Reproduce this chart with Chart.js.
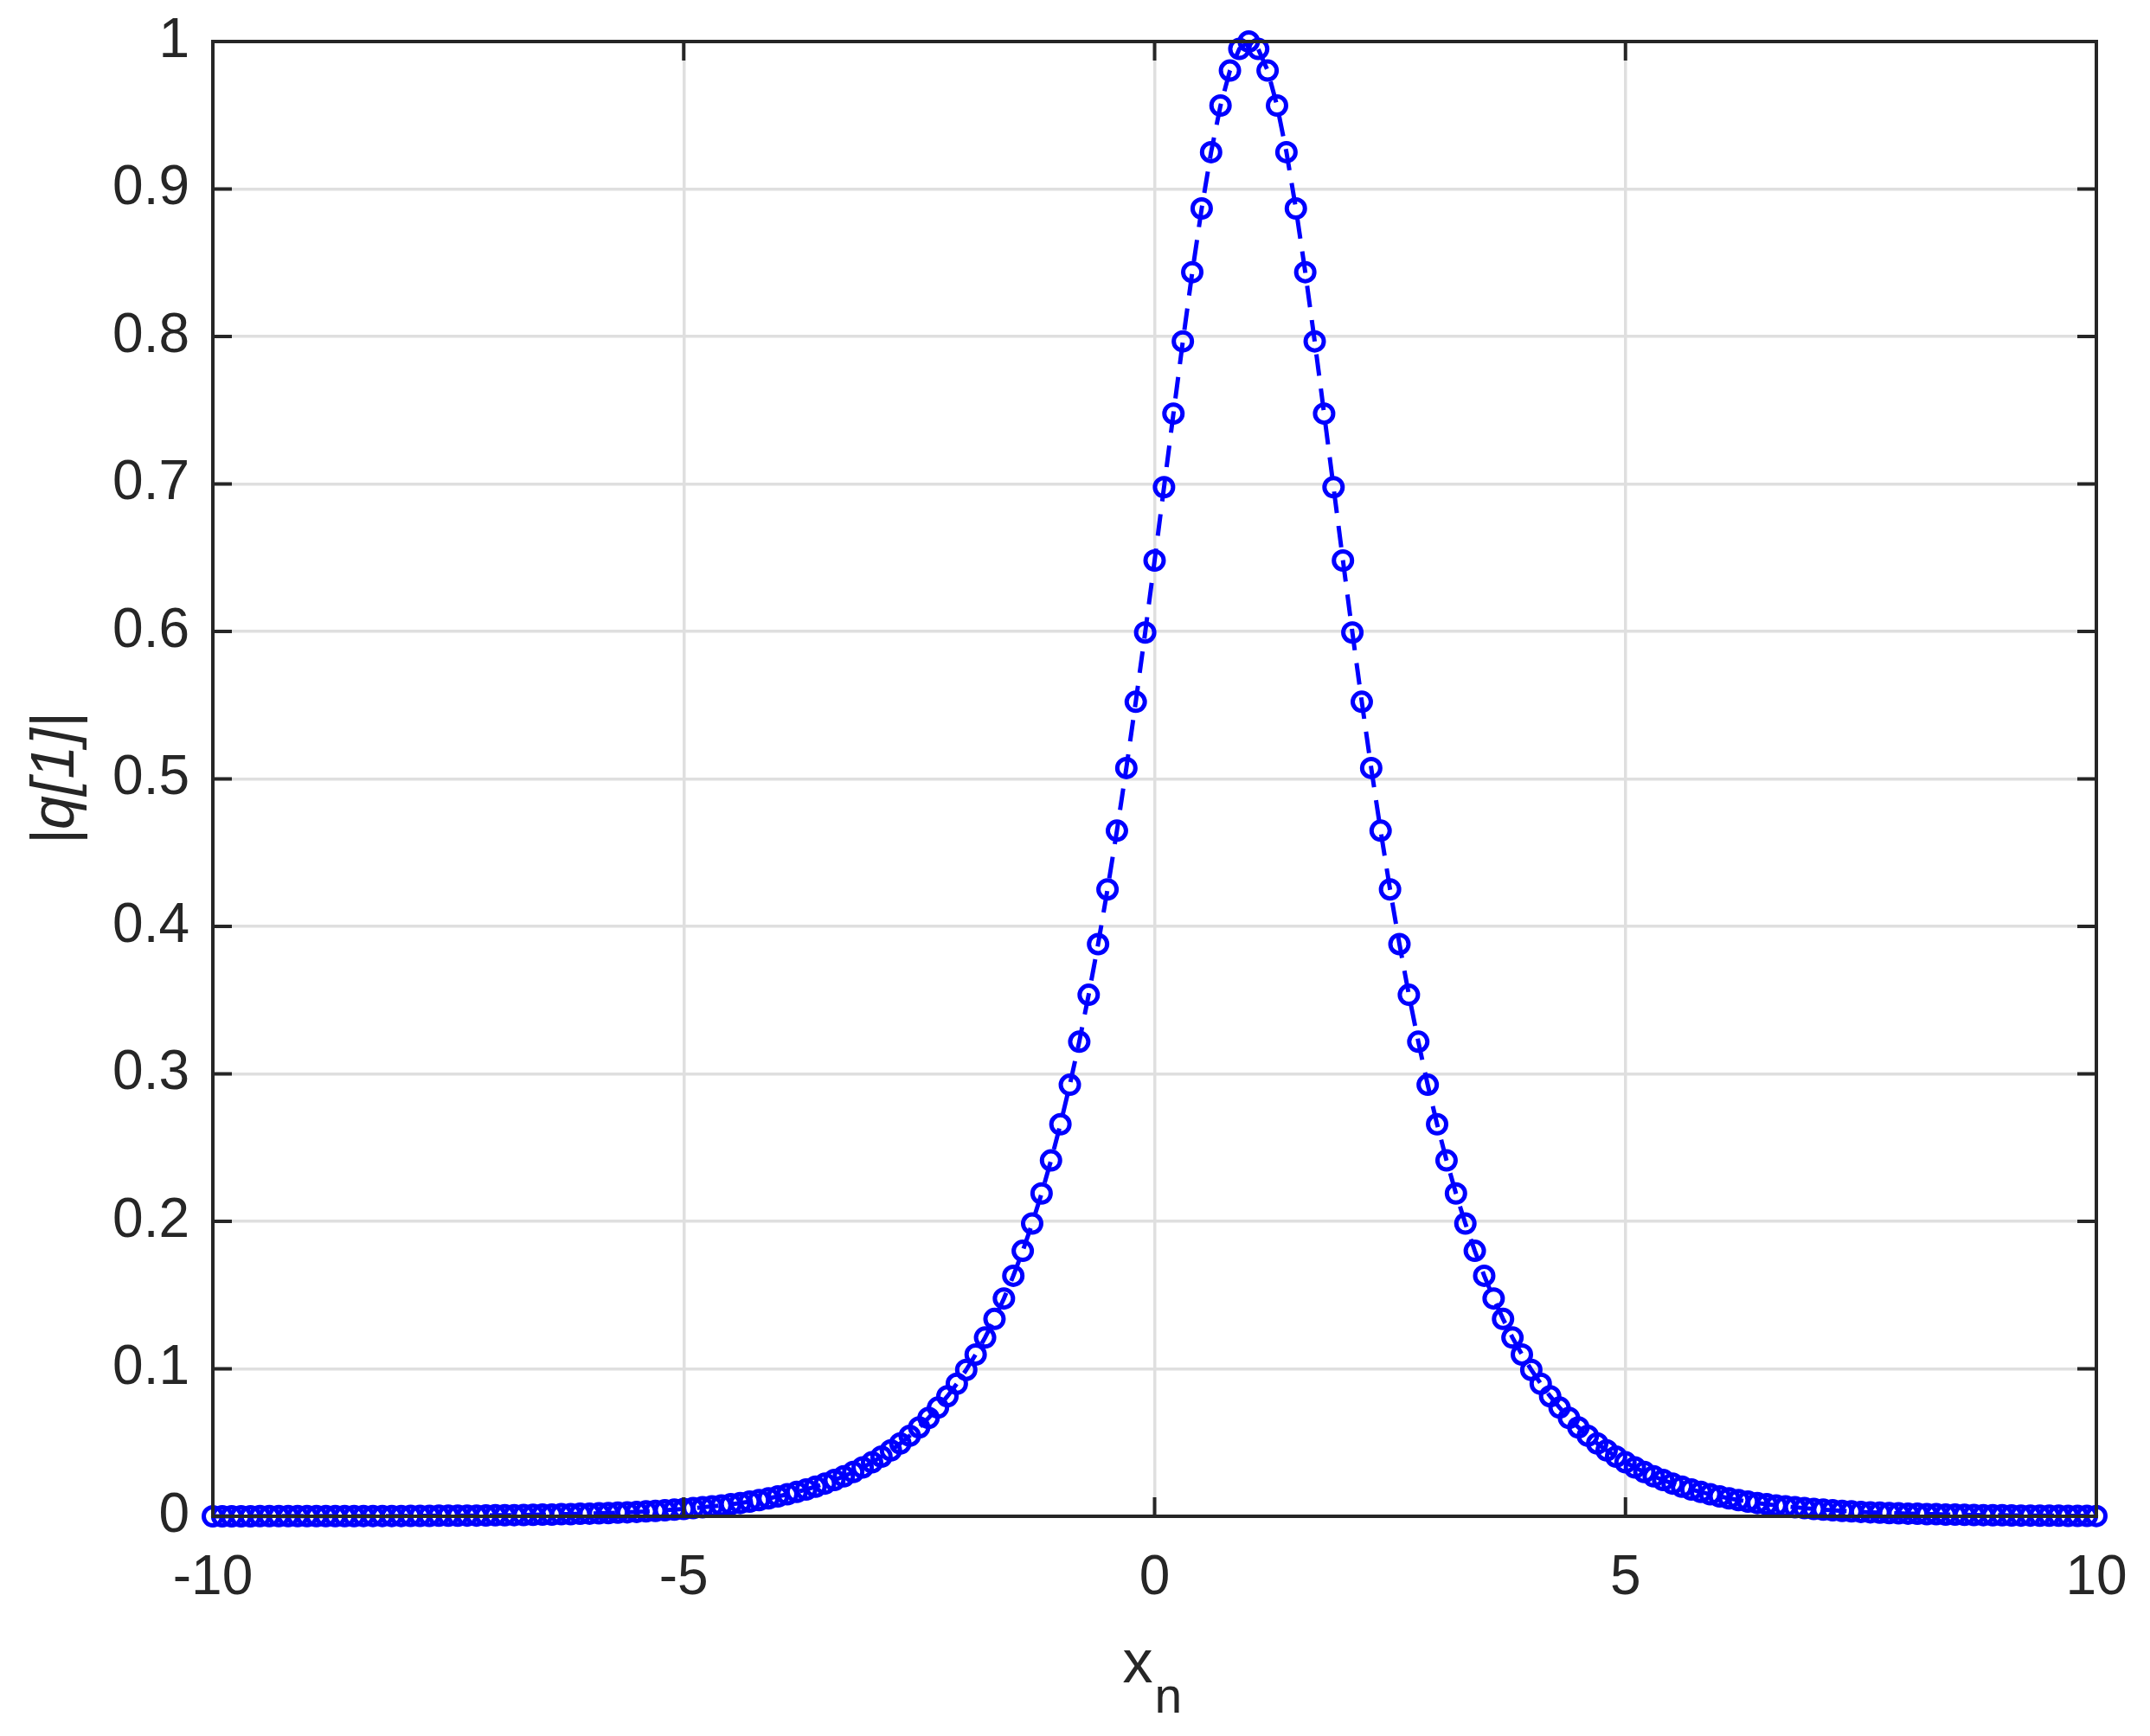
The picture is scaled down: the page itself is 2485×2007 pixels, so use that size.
<!DOCTYPE html>
<html>
<head>
<meta charset="utf-8">
<script src="https://cdn.jsdelivr.net/npm/chart.js@4.4.1/dist/chart.umd.min.js"></script>
<style>
  html, body { margin: 0; padding: 0; background: #fff; }
  canvas { display: block; }
</style>
</head>
<body>
<canvas id="plot" width="2485" height="2007"></canvas>
<script>
// x_n grid (201 samples)
const xn = [
  -10, -9.9, -9.8, -9.7, -9.6, -9.5, -9.4, -9.3, -9.2, -9.1,
  -9, -8.9, -8.8, -8.7, -8.6, -8.5, -8.4, -8.3, -8.2, -8.1,
  -8, -7.9, -7.8, -7.7, -7.6, -7.5, -7.4, -7.3, -7.2, -7.1,
  -7, -6.9, -6.8, -6.7, -6.6, -6.5, -6.4, -6.3, -6.2, -6.1,
  -6, -5.9, -5.8, -5.7, -5.6, -5.5, -5.4, -5.3, -5.2, -5.1,
  -5, -4.9, -4.8, -4.7, -4.6, -4.5, -4.4, -4.3, -4.2, -4.1,
  -4, -3.9, -3.8, -3.7, -3.6, -3.5, -3.4, -3.3, -3.2, -3.1,
  -3, -2.9, -2.8, -2.7, -2.6, -2.5, -2.4, -2.3, -2.2, -2.1,
  -2, -1.9, -1.8, -1.7, -1.6, -1.5, -1.4, -1.3, -1.2, -1.1,
  -1, -0.9, -0.8, -0.7, -0.6, -0.5, -0.4, -0.3, -0.2, -0.1,
  0, 0.1, 0.2, 0.3, 0.4, 0.5, 0.6, 0.7, 0.8, 0.9,
  1, 1.1, 1.2, 1.3, 1.4, 1.5, 1.6, 1.7, 1.8, 1.9,
  2, 2.1, 2.2, 2.3, 2.4, 2.5, 2.6, 2.7, 2.8, 2.9,
  3, 3.1, 3.2, 3.3, 3.4, 3.5, 3.6, 3.7, 3.8, 3.9,
  4, 4.1, 4.2, 4.3, 4.4, 4.5, 4.6, 4.7, 4.8, 4.9,
  5, 5.1, 5.2, 5.3, 5.4, 5.5, 5.6, 5.7, 5.8, 5.9,
  6, 6.1, 6.2, 6.3, 6.4, 6.5, 6.6, 6.7, 6.8, 6.9,
  7, 7.1, 7.2, 7.3, 7.4, 7.5, 7.6, 7.7, 7.8, 7.9,
  8, 8.1, 8.2, 8.3, 8.4, 8.5, 8.6, 8.7, 8.8, 8.9,
  9, 9.1, 9.2, 9.3, 9.4, 9.5, 9.6, 9.7, 9.8, 9.9,
  10
];

// |q[1]| at each x_n
const q1 = [
  0, 0, 0, 0, 0, 0.0001, 0.0001, 0.0001, 0.0001, 0.0001,
  0.0001, 0.0001, 0.0001, 0.0001, 0.0001, 0.0001, 0.0002, 0.0002, 0.0002, 0.0002,
  0.0002, 0.0003, 0.0003, 0.0003, 0.0004, 0.0004, 0.0004, 0.0005, 0.0005, 0.0006,
  0.0007, 0.0007, 0.0008, 0.0009, 0.0010, 0.0011, 0.0012, 0.0014, 0.0015, 0.0017,
  0.0018, 0.0020, 0.0022, 0.0025, 0.0027, 0.0030, 0.0033, 0.0037, 0.0041, 0.0045,
  0.0050, 0.0055, 0.0061, 0.0067, 0.0074, 0.0082, 0.0090, 0.0100, 0.0110, 0.0122,
  0.0135, 0.0149, 0.0165, 0.0182, 0.0201, 0.0222, 0.0246, 0.0271, 0.0300, 0.0331,
  0.0366, 0.0405, 0.0447, 0.0494, 0.0546, 0.0603, 0.0667, 0.0737, 0.0814, 0.0899,
  0.0993, 0.1097, 0.1212, 0.1338, 0.1477, 0.1631, 0.1800, 0.1985, 0.2189, 0.2413,
  0.2658, 0.2926, 0.3218, 0.3536, 0.3880, 0.4251, 0.4649, 0.5074, 0.5523, 0.5993,
  0.6481, 0.6978, 0.7477, 0.7967, 0.8436, 0.8868, 0.9250, 0.9566, 0.9803, 0.9950,
  1.0000, 0.9950, 0.9803, 0.9566, 0.9250, 0.8868, 0.8436, 0.7967, 0.7477, 0.6978,
  0.6481, 0.5993, 0.5523, 0.5074, 0.4649, 0.4251, 0.3880, 0.3536, 0.3218, 0.2926,
  0.2658, 0.2413, 0.2189, 0.1985, 0.1800, 0.1631, 0.1477, 0.1338, 0.1212, 0.1097,
  0.0993, 0.0899, 0.0814, 0.0737, 0.0667, 0.0603, 0.0546, 0.0494, 0.0447, 0.0405,
  0.0366, 0.0331, 0.0300, 0.0271, 0.0246, 0.0222, 0.0201, 0.0182, 0.0165, 0.0149,
  0.0135, 0.0122, 0.0110, 0.0100, 0.0090, 0.0082, 0.0074, 0.0067, 0.0061, 0.0055,
  0.0050, 0.0045, 0.0041, 0.0037, 0.0033, 0.0030, 0.0027, 0.0025, 0.0022, 0.0020,
  0.0018, 0.0017, 0.0015, 0.0014, 0.0012, 0.0011, 0.0010, 0.0009, 0.0008, 0.0007,
  0.0007, 0.0006, 0.0005, 0.0005, 0.0004, 0.0004, 0.0004, 0.0003, 0.0003, 0.0003,
  0.0002
];

const xTicks = [-10, -5, 0, 5, 10];
const yTicks = [0, 0.1, 0.2, 0.3, 0.4, 0.5, 0.6, 0.7, 0.8, 0.9, 1];

const axisColor = '#262626';
const fontFamily = '"Liberation Sans", Arial, Helvetica, sans-serif';

// MATLAB-style box with inward ticks on all four sides, plus the x_n label
const boxPlugin = {
  id: 'matlabBox',
  afterDatasetsDraw(chart) {
    const { ctx, chartArea: a, scales } = chart;
    const tl = 22;
    ctx.save();
    ctx.strokeStyle = axisColor;
    ctx.lineWidth = 4;
    ctx.beginPath();
    xTicks.forEach(v => {
      const px = scales.x.getPixelForValue(v);
      ctx.moveTo(px, a.bottom); ctx.lineTo(px, a.bottom - tl);
      ctx.moveTo(px, a.top); ctx.lineTo(px, a.top + tl);
    });
    yTicks.forEach(v => {
      const py = scales.y.getPixelForValue(v);
      ctx.moveTo(a.left, py); ctx.lineTo(a.left + tl, py);
      ctx.moveTo(a.right, py); ctx.lineTo(a.right - tl, py);
    });
    ctx.stroke();
    ctx.strokeRect(a.left, a.top, a.right - a.left, a.bottom - a.top);

    // x label with subscript
    const cx = (a.left + a.right) / 2;
    ctx.fillStyle = axisColor;
    ctx.textBaseline = 'alphabetic';
    ctx.textAlign = 'left';
    ctx.font = '70px ' + fontFamily;
    ctx.fillText('x', cx - 37, a.bottom + 192);
    ctx.font = '57px ' + fontFamily;
    ctx.fillText('n', cx, a.bottom + 227);
    ctx.restore();
  }
};

new Chart(document.getElementById('plot'), {
  type: 'line',
  data: {
    labels: xn,
    datasets: [{
      data: xn.map((x, i) => ({ x: x, y: q1[i] })),
      borderColor: '#0000ff',
      borderWidth: 5,
      borderDash: [25, 15],
      pointStyle: 'circle',
      pointRadius: 10.5,
      pointBorderWidth: 5,
      pointBorderColor: '#0000ff',
      pointBackgroundColor: 'rgba(0,0,0,0)',
      tension: 0,
      fill: false,
      clip: false
    }]
  },
  options: {
    responsive: false,
    devicePixelRatio: 1,
    animation: false,
    events: [],
    layout: { autoPadding: false, padding: { top: 48, right: 62, left: 0, bottom: 0 } },
    plugins: {
      legend: { display: false },
      tooltip: { enabled: false }
    },
    scales: {
      x: {
        type: 'linear',
        min: -10,
        max: 10,
        afterFit: s => { s.height = 254; s.paddingLeft = 0; s.paddingRight = 0; },
        afterBuildTicks: s => { s.ticks = xTicks.map(v => ({ value: v })); },
        border: { display: false },
        grid: { color: '#dfdfdf', lineWidth: 3.5, drawTicks: false },
        ticks: {
          color: axisColor,
          padding: 34,
          maxRotation: 0,
          autoSkip: false,
          font: { family: fontFamily, size: 64 },
          callback: v => String(v)
        }
      },
      y: {
        type: 'linear',
        min: 0,
        max: 1,
        afterFit: s => { s.width = 246; s.paddingTop = 0; s.paddingBottom = 0; },
        afterBuildTicks: s => { s.ticks = yTicks.map(v => ({ value: v })); },
        border: { display: false },
        grid: { color: '#dfdfdf', lineWidth: 3.5, drawTicks: false },
        title: {
          display: true,
          text: '|q[1]|',
          color: axisColor,
          padding: { top: 24, bottom: 0 },
          font: { family: fontFamily, size: 70, style: 'italic' }
        },
        ticks: {
          color: axisColor,
          padding: 27,
          autoSkip: false,
          font: { family: fontFamily, size: 64 },
          callback: v => String(+v.toFixed(1))
        }
      }
    }
  },
  plugins: [boxPlugin]
});
</script>
</body>
</html>
